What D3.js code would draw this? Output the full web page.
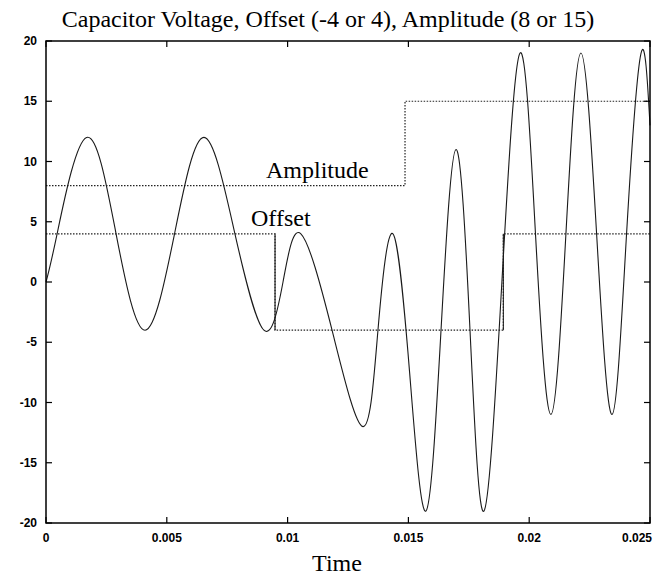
<!DOCTYPE html>
<html>
<head>
<meta charset="utf-8">
<script src="https://cdn.jsdelivr.net/npm/d3@7"></script>
<style>
  body { margin: 0; background: #fff; }
  svg { display: block; }
</style>
</head>
<body>
<div id="chart"></div>
<script>
// capacitor voltage (extrema and mid crossings)
var voltTime = [0, 0.00046, 0.00168, 0.00290, 0.00410, 0.00532, 0.00654, 0.00782,
                0.00902, 0.00981, 0.01055, 0.01184, 0.01312, 0.01374, 0.01436, 0.01505,
                0.01573, 0.01635, 0.01697, 0.01755, 0.01813, 0.01887, 0.01962, 0.02026,
                0.02090, 0.02152, 0.02214, 0.02279, 0.02343, 0.02403, 0.02463, 0.02500];
var voltValue = [0, 4, 12, 4, -4, 4, 12, 4,
                 -4, 0, 4, -4, -12, -4, 4, -7.5,
                 -19, -4, 11, -4, -19, 0, 19, 4,
                 -11, 4, 19, 4, -11, 4, 19, 13];

// step signals
var offsetTime = [0, 0.00948, 0.01893, 0.025];
var offsetValue = [4, -4, 4, 4];
var ampTime = [0, 0.01486, 0.025];
var ampValue = [8, 15, 15];

var xTicks = [0, 0.005, 0.01, 0.015, 0.02, 0.025];
var xTickLabels = ["0", "0.005", "0.01", "0.015", "0.02", "0.025"];
var yTicks = [-20, -15, -10, -5, 0, 5, 10, 15, 20];

var width = 658, height = 576;
var plotLeft = 46, plotRight = 650, plotTop = 41, plotBottom = 523;

var x = d3.scaleLinear().domain([0, 0.025]).range([plotLeft, plotRight]);
var y = d3.scaleLinear().domain([-20, 20]).range([plotBottom, plotTop]);

var svg = d3.select("#chart").append("svg")
    .attr("width", width)
    .attr("height", height);

function zip(ts, vs) {
    return ts.map(function(t, i) { return [t, vs[i]]; });
}

var stepLine = d3.line()
    .x(function(d) { return x(d[0]); })
    .y(function(d) { return y(d[1]); })
    .curve(d3.curveStepAfter);

var smoothLine = d3.line()
    .x(function(d) { return x(d[0]); })
    .y(function(d) { return y(d[1]); })
    .curve(d3.curveNatural);

svg.append("path")
    .attr("d", stepLine(zip(ampTime, ampValue)))
    .attr("fill", "none")
    .attr("stroke", "#222")
    .attr("stroke-width", 1.2)
    .attr("stroke-dasharray", "1.5,1.5");

// offset: dotted levels, solid jumps
svg.append("path")
    .attr("d", stepLine(zip(offsetTime, offsetValue)))
    .attr("fill", "none")
    .attr("stroke", "#222")
    .attr("stroke-width", 1.2)
    .attr("stroke-dasharray", "1.5,1.5");

svg.append("g").selectAll("line")
    .data(offsetTime.slice(1, offsetTime.length - 1)).enter().append("line")
    .attr("x1", function(d) { return x(d); }).attr("x2", function(d) { return x(d); })
    .attr("y1", function(d, i) { return y(offsetValue[i]); })
    .attr("y2", function(d, i) { return y(offsetValue[i + 1]); })
    .attr("stroke", "#222")
    .attr("stroke-width", 1.1);

svg.append("path")
    .attr("d", smoothLine(zip(voltTime, voltValue)))
    .attr("fill", "none")
    .attr("stroke", "#1a1a1a")
    .attr("stroke-width", 1.1);

// frame
svg.append("rect")
    .attr("x", plotLeft).attr("y", plotTop)
    .attr("width", plotRight - plotLeft).attr("height", plotBottom - plotTop)
    .attr("fill", "none")
    .attr("stroke", "#000")
    .attr("stroke-width", 1.5);

// ticks pointing inwards on all four sides
var tick = 6;
var ticks = svg.append("g").attr("class", "ticks");
ticks.selectAll("line.yl")
    .data(yTicks).enter().append("line").attr("class", "yl")
    .attr("x1", plotLeft).attr("x2", plotLeft + tick)
    .attr("y1", function(d) { return y(d); }).attr("y2", function(d) { return y(d); });
ticks.selectAll("line.yr")
    .data(yTicks).enter().append("line").attr("class", "yr")
    .attr("x1", plotRight).attr("x2", plotRight - tick)
    .attr("y1", function(d) { return y(d); }).attr("y2", function(d) { return y(d); });
ticks.selectAll("line.xb")
    .data(xTicks).enter().append("line").attr("class", "xb")
    .attr("y1", plotBottom).attr("y2", plotBottom - tick)
    .attr("x1", function(d) { return x(d); }).attr("x2", function(d) { return x(d); });
ticks.selectAll("line.xt")
    .data(xTicks).enter().append("line").attr("class", "xt")
    .attr("y1", plotTop).attr("y2", plotTop + tick)
    .attr("x1", function(d) { return x(d); }).attr("x2", function(d) { return x(d); });
ticks.selectAll("line").attr("stroke", "#000").attr("stroke-width", 1.2);

// tick labels
svg.append("g").selectAll("text")
    .data(yTicks).enter().append("text")
    .attr("x", plotLeft - 9)
    .attr("y", function(d) { return y(d) + 4; })
    .attr("text-anchor", "end")
    .style("font", "bold 12px 'Liberation Sans', Arial, sans-serif")
    .text(function(d) { return d; });

svg.append("g").selectAll("text")
    .data(xTicks).enter().append("text")
    .attr("x", function(d, i) { return i == xTicks.length - 1 ? x(d) + 2 : x(d); })
    .attr("y", plotBottom + 19)
    .attr("text-anchor", function(d, i) { return i == xTicks.length - 1 ? "end" : "middle"; })
    .style("font", "bold 12px 'Liberation Sans', Arial, sans-serif")
    .text(function(d, i) { return xTickLabels[i]; });

var serif = "'Liberation Serif', 'Times New Roman', serif";

svg.append("text")
    .attr("x", 328).attr("y", 27)
    .attr("text-anchor", "middle")
    .style("font", "24px " + serif)
    .text("Capacitor Voltage, Offset (-4 or 4), Amplitude (8 or 15)");

svg.append("text")
    .attr("x", 337).attr("y", 571)
    .attr("text-anchor", "middle")
    .style("font", "24px " + serif)
    .text("Time");

svg.append("text")
    .attr("x", 266).attr("y", 178)
    .style("font", "24px " + serif)
    .text("Amplitude");

svg.append("text")
    .attr("x", 251).attr("y", 226)
    .style("font", "24px " + serif)
    .text("Offset");
</script>
</body>
</html>
